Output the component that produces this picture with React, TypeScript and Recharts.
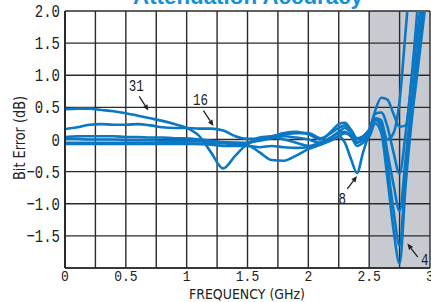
import React from "react";
import { LineChart, Line, XAxis, YAxis, CartesianGrid, ReferenceLine } from "recharts";

// frequency points (GHz)
const freq = [
  0, 0.1, 0.2, 0.3, 0.4, 0.5, 0.6, 0.7, 0.8, 0.9, 1.0, 1.1, 1.2, 1.3, 1.4, 1.5,
  1.6, 1.7, 1.8, 1.9, 2.0, 2.1, 2.2, 2.25, 2.3, 2.35, 2.4, 2.45, 2.5, 2.55, 2.6,
  2.65, 2.7, 2.75, 2.8, 2.85, 2.9, 2.95, 3.0,
];

// bit error (dB) for each attenuation state
const bit31 = [
  0.47, 0.48, 0.48, 0.46, 0.44, 0.41, 0.37, 0.33, 0.29, 0.24, 0.18, 0.06, -0.2, -0.45, -0.25, -0.07,
  0.0, 0.03, 0.0, -0.05, -0.1, -0.05, 0.05, 0.1, 0.12, 0.05, -0.05, 0.0, 0.1, 0.33, 0.3,
  -0.2, -0.7, -1.11, -0.3, 0.6, 1.4, 2.2, 3.0,
];
const bit16 = [
  0.16, 0.19, 0.23, 0.24, 0.23, 0.23, 0.24, 0.22, 0.19, 0.18, 0.18, 0.17, 0.17, 0.14, 0.05, 0.01,
  0.02, 0.05, 0.08, 0.1, 0.1, 0.02, 0.12, 0.18, 0.22, 0.15, 0.02, 0.05, 0.15, 0.4, 0.42,
  0.2, -0.2, -0.53, 0.1, 0.9, 1.7, 2.5, 3.2,
];
const bit8 = [
  0.04, 0.05, 0.05, 0.05, 0.05, 0.04, 0.04, 0.03, 0.03, 0.02, 0.02, 0.0, -0.02, -0.05, -0.08, -0.05,
  -0.02, 0.02, 0.05, 0.03, 0.0, -0.05, 0.0, 0.05, -0.05, -0.3, -0.52, -0.2, 0.1, 0.45, 0.65,
  0.62, 0.4, 0.2, 0.22, 1.0, 2.1, 3.2, 4.0,
];
const bit4 = [
  0.01, 0.01, 0.0, 0.0, 0.0, -0.01, -0.01, -0.01, -0.02, -0.02, -0.02, -0.03, -0.03, -0.04, -0.05, -0.08,
  -0.2, -0.32, -0.33, -0.25, -0.15, -0.08, 0.0, 0.05, 0.1, 0.05, -0.1, -0.05, 0.05, 0.3, 0.2,
  -0.4, -1.1, -1.65, -0.5, 0.4, 1.2, 2.0, 2.8,
];
const bit2 = [
  -0.05, -0.05, -0.05, -0.05, -0.05, -0.05, -0.05, -0.05, -0.06, -0.06, -0.06, -0.07, -0.08, -0.1, -0.1, -0.1,
  -0.12, -0.1, -0.12, -0.13, -0.12, -0.08, 0.05, 0.12, 0.18, 0.1, -0.05, 0.0, 0.05, 0.25, 0.1,
  -0.6, -1.4, -1.93, -0.7, 0.3, 1.1, 1.9, 2.7,
];
const bit1 = [
  -0.07, -0.07, -0.07, -0.07, -0.07, -0.07, -0.07, -0.07, -0.07, -0.07, -0.07, -0.07, -0.06, -0.06, -0.05, -0.05,
  0.03, 0.05, 0.1, 0.12, 0.08, 0.0, 0.15, 0.24, 0.26, 0.15, 0.0, 0.05, 0.15, 0.3, 0.25,
  0.0, 0.1, 0.6, 1.7, 2.8, 3.8, 4.5, 5.0,
];

const series = [
  { key: "bit31", values: bit31 },
  { key: "bit16", values: bit16 },
  { key: "bit8", values: bit8 },
  { key: "bit4", values: bit4 },
  { key: "bit2", values: bit2 },
  { key: "bit1", values: bit1 },
];

const xTicks = [0, 0.25, 0.5, 0.75, 1, 1.25, 1.5, 1.75, 2, 2.25, 2.5, 2.75, 3];
const yTicks = [-2, -1.5, -1, -0.5, 0, 0.5, 1, 1.5, 2];

// labelled arrows: [label, fromFreq, fromErr, toFreq, toErr]
const notes: [string, number, number, number, number][] = [
  ["31", 0.61, 0.67, 0.686, 0.45],
  ["16", 1.138, 0.45, 1.22, 0.21],
  ["8", 2.32, -0.77, 2.4, -0.57],
  ["4", 2.9, -1.83, 2.814, -1.62],
];
const noteOffsets: Record<string, [number, number]> = {
  "31": [-3, -5],
  "16": [-3, -6],
  "8": [-5, 15],
  "4": [7, 8],
};

const data = freq.map((f, i) => {
  const row: Record<string, number> = { f };
  series.forEach((s) => (row[s.key] = s.values[i]));
  return row;
});

const LINE = "#0a78c4";
const INK = "#222";
const MONO = "'Liberation Mono', monospace";

const fmtY = (v: number) => {
  if (v === -2) return "";
  if (v === 0) return "0";
  return (v < 0 ? "\u2212" : "") + Math.abs(v).toFixed(1);
};
const fmtX = (v: number) => {
  if (v % 0.5 !== 0) return "";
  return Number.isInteger(v) ? String(v) : v.toFixed(1);
};

const YTick = (props: any) => {
  const { x, y, payload } = props;
  const s = fmtY(payload.value);
  if (!s) return null;
  return (
    <text x={x} y={y} dy={6} textAnchor="end" fontFamily={MONO} fontSize={19} fill={INK}
      textLength={s.length * 8.4} lengthAdjust="spacingAndGlyphs">
      {s}
    </text>
  );
};

const XTick = (props: any) => {
  const { x, y, payload } = props;
  const s = fmtX(payload.value);
  if (!s) return null;
  return (
    <text x={x} y={y} dy={11} textAnchor="middle" fontFamily={MONO} fontSize={15} fill={INK}
      textLength={s.length * 7.8} lengthAdjust="spacingAndGlyphs">
      {s}
    </text>
  );
};

const arrowShape = (label: string) => (props: any) => {
  const { x1, y1, x2, y2 } = props;
  const a = Math.atan2(y2 - y1, x2 - x1);
  const h = 6;
  const w = 2.6;
  const bx = x2 - h * Math.cos(a);
  const by = y2 - h * Math.sin(a);
  const pts = [
    [x2, y2],
    [bx + w * Math.sin(a), by - w * Math.cos(a)],
    [bx - w * Math.sin(a), by + w * Math.cos(a)],
  ]
    .map((p) => p.join(","))
    .join(" ");
  const [dx, dy] = noteOffsets[label];
  return (
    <g>
      <line x1={x1} y1={y1} x2={bx} y2={by} stroke={INK} strokeWidth={1.3} />
      <polygon points={pts} fill={INK} />
      <text x={x1 + dx} y={y1 + dy} textAnchor="middle" fontFamily={MONO} fontSize={17} fill={INK}
        textLength={label.length * 7.5} lengthAdjust="spacingAndGlyphs">
        {label}
      </text>
    </g>
  );
};

const stripes = xTicks.slice(0, 12).map((t) => (t >= 2.5 ? "#c8cad2" : "none"));

export default function App() {
  return (
    <div style={{ position: "absolute", left: 0, top: 0, width: 431, height: 302, overflow: "hidden", background: "#fff" }}>
      <LineChart width={431} height={302} data={data} margin={{ top: 11, right: 1, left: 0, bottom: 0 }}>
        <CartesianGrid stroke="#2b2b2b" strokeWidth={1.4} verticalFill={stripes} fillOpacity={1} />
        <XAxis dataKey="f" type="number" domain={[0, 3]} ticks={xTicks} interval={0} height={34}
          tickLine={false} tickSize={0} axisLine={{ stroke: "#2b2b2b", strokeWidth: 1.6 }} tick={<XTick />} />
        <YAxis type="number" domain={[-2, 2]} ticks={yTicks} interval={0} width={65} allowDataOverflow
          tickLine={false} tickSize={0} tickMargin={5} axisLine={{ stroke: "#2b2b2b", strokeWidth: 2 }} tick={<YTick />} />
        {series.map((s) => (
          <Line key={s.key} type="monotone" dataKey={s.key} stroke={LINE} strokeWidth={2.6}
            dot={false} activeDot={false} isAnimationActive={false} />
        ))}
        {notes.map(([label, fx, fy, tx, ty]) => (
          <ReferenceLine key={label} segment={[{ x: fx, y: fy }, { x: tx, y: ty }]} shape={arrowShape(label)} ifOverflow="visible" />
        ))}
      </LineChart>
      <svg width={431} height={302} style={{ position: "absolute", left: 0, top: 0, pointerEvents: "none" }}>
        <text x={248} y={4} textAnchor="middle" fontFamily="'Liberation Sans', Arial, sans-serif" fontWeight="bold"
          fontSize={22} fill="#1591d9" textLength={230} lengthAdjust="spacingAndGlyphs">
          Attenuation Accuracy
        </text>
        <text x={247} y={298.5} textAnchor="middle" fontFamily="'DejaVu Sans', sans-serif" fontSize={14} fill={INK}
          textLength={116} lengthAdjust="spacingAndGlyphs">
          FREQUENCY (GHz)
        </text>
        <text transform="translate(25,138) rotate(-90)" textAnchor="middle" fontFamily="'DejaVu Sans', sans-serif"
          fontSize={16} fill={INK} textLength={84} lengthAdjust="spacingAndGlyphs">
          Bit Error (dB)
        </text>
      </svg>
    </div>
  );
}
